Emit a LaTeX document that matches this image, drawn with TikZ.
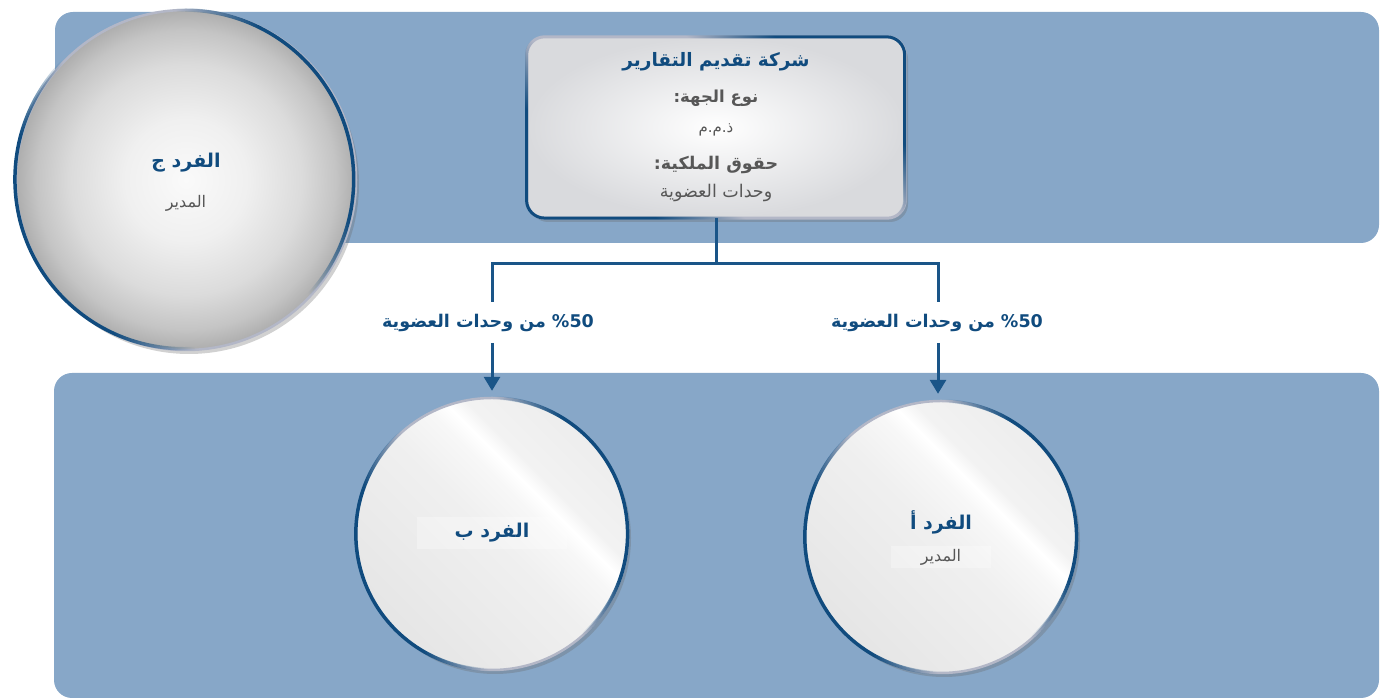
\documentclass[tikz,border=0pt]{standalone}
\usepackage{fontspec}
\newfontfamily\arabicfont[Script=Arabic]{DejaVu Sans}
\newfontfamily\latinfont{DejaVu Sans}
\TeXXeTstate=1
\usetikzlibrary{arrows.meta,shadows,fadings}

\definecolor{panel}{HTML}{87A7C8}
\definecolor{dblue}{HTML}{104B7E}
\definecolor{lblue}{HTML}{1A5588}
\definecolor{gtext}{HTML}{575757}
\definecolor{rimgray}{HTML}{B3B7C7}
\definecolor{boxgray}{HTML}{D9DADD}

\pgfdeclareradialshading{sphereC}{\pgfpoint{0bp}{0bp}}{color(0bp)=(white!98!black); color(9bp)=(white!94!black); color(17bp)=(white!86!black); color(22bp)=(white!77!black); color(25bp)=(white!68!black); color(50bp)=(white!68!black)}
\pgfdeclarehorizontalshading{glass}{100bp}{color(0bp)=(white!90!black); color(25bp)=(white!90!black); color(50bp)=(white!94!black); color(58bp)=(white!97!black); color(61bp)=(white); color(64bp)=(white!95!black); color(75bp)=(white!93!black); color(100bp)=(white!93!black)}

\pgfdeclareverticalshading{endsfadeshade}{100bp}{color(0bp)=(white); color(31bp)=(white); color(41bp)=(black); color(59bp)=(black); color(69bp)=(white); color(100bp)=(white)}
\pgfdeclarefading{ends}{\pgfuseshading{endsfadeshade}}

\begin{document}
\begin{tikzpicture}[x=1pt,y=1pt,
  panelbox/.style={fill=panel, draw=none, rounded corners=18pt},
  conn/.style={draw=lblue, line width=3pt},
  arr/.style={conn, -{Triangle[width=16pt,length=14pt]}},
  shad/.style={drop shadow={shadow xshift=3pt, shadow yshift=-4pt, opacity=0.3, fill=black!60}},
  ttl/.style={font=\arabicfont\bfseries\fontsize{18.5}{22}\selectfont, text=dblue, inner sep=0pt},
  sub/.style={font=\arabicfont\bfseries\fontsize{16.5}{20}\selectfont, text=gtext, inner sep=0pt},
  val/.style={font=\arabicfont\fontsize{16}{19}\selectfont, text=gtext, inner sep=0pt},
  nm/.style={font=\arabicfont\bfseries\fontsize{19}{22}\selectfont, text=dblue, inner sep=0pt},
  lbl/.style={font=\arabicfont\bfseries\fontsize{17.5}{21}\selectfont, text=dblue, inner sep=0pt},
  ball/.style={circle, inner sep=0pt, minimum size=272pt, shade, shading=glass, shading angle=45, shad},
  rimg/.style={draw=rimgray, line width=2.5pt},
  rimb/.style={draw=dblue, line width=3.5pt, path fading=ends}
]
\useasboundingbox (0,0) rectangle (1387,700);

% panels
\path[panelbox] (55,457) rectangle (1379,688);
\path[panelbox] (54,2) rectangle (1379,327);

% circle C
\node[circle, inner sep=0pt, minimum size=340pt, shade, shading=sphereC, shad] (pc) at (186,520) {};
\draw[rimg] (pc.center) circle[radius=170pt];
\draw[rimb, fading angle=-65] (pc.center) circle[radius=170pt];
\node[nm] (pcn) at (186,537) {\beginR الفرد ج\endR};
\node[val] (pcr) at (186,497) {\beginR المدير\endR};

% company box
\node[rectangle, rounded corners=18pt, minimum width=378pt, minimum height=181pt, shade, inner color=white, outer color=boxgray, shad] (co) at (716,572.5) {};
\draw[rimg, line width=3pt, rounded corners=18pt] (co.south west) rectangle (co.north east);
\draw[rimb, line width=3pt, rounded corners=18pt, fading angle=-60] (co.south west) rectangle (co.north east);
\node[ttl] (t1) at (716,638) {\beginR شركة تقديم التقارير\endR};
\node[sub] (t2) at (716,602) {\beginR نوع الجهة:\endR};
\node[val, font=\arabicfont\fontsize{15}{18}\selectfont] (t3) at (716,570) {\beginR ذ.م.م\endR};
\node[sub, font=\arabicfont\bfseries\fontsize{17.5}{21}\selectfont] (t4) at (716,535) {\beginR حقوق الملكية:\endR};
\node[val, font=\arabicfont\fontsize{17.5}{21}\selectfont] (t5) at (716,507) {\beginR وحدات العضوية\endR};

% bottom circles
\node[ball] (cb) at (492,166) {};
\draw[rimg] (cb.center) circle[radius=136pt];
\draw[rimb, fading angle=-70] (cb.center) circle[radius=136pt];
\node[ball] (ca) at (941,163) {};
\draw[rimg] (ca.center) circle[radius=136pt];
\draw[rimb, fading angle=-70] (ca.center) circle[radius=136pt];

\node[nm, fill=white, fill opacity=0.3, text opacity=1, minimum width=150pt, minimum height=32pt] (cbn) at (492,167) {\beginR الفرد ب\endR};
\node[nm] (can) at (941,178) {\beginR الفرد أ\endR};
\node[val, fill=white, fill opacity=0.3, text opacity=1, minimum width=100pt, minimum height=22pt] (car) at (941,143) {\beginR المدير\endR};

% labels
\node[lbl] (lb) at (488,377) {\beginR من وحدات العضوية\endR\ {\latinfont\bfseries\%50}};
\node[lbl] (la) at (937,377) {\beginR من وحدات العضوية\endR\ {\latinfont\bfseries\%50}};

% connectors
\coordinate (jl) at (492,436);
\coordinate (jr) at (938,436);
\draw[conn] (co.south) -- (co.south |- jl);
\draw[conn, line cap=rect] (jl) -- (jr);
\draw[conn] (jl) -- (jl |- lb.north) [shorten >=12pt];
\draw[conn] (jr) -- (jr |- la.north) [shorten >=12pt];
\draw[arr, shorten <=11pt, shorten >=7pt] (jl |- lb.south) -- (cb.north);
\draw[arr, shorten <=11pt, shorten >=7pt] (jr |- la.south) -- (jr |- ca.north);
\end{tikzpicture}
\end{document}
